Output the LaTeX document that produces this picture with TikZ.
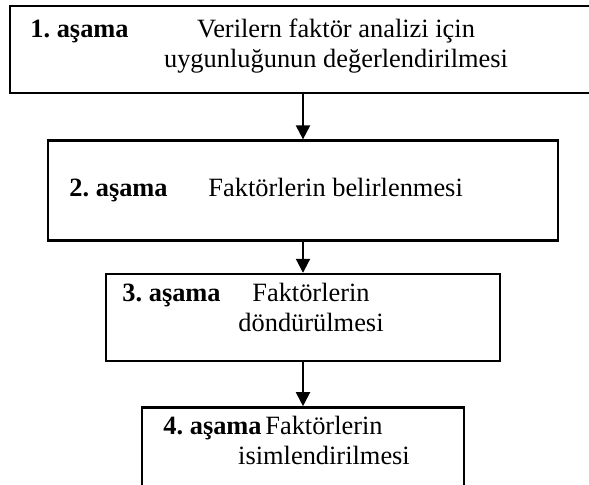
\documentclass[tikz,border=0pt]{standalone}
\usepackage{fontspec}
\setmainfont{Liberation Serif}
\usetikzlibrary{positioning, arrows.meta}
\frenchspacing

\begin{document}
\begin{tikzpicture}[
            x=0.5pt, y=-0.5pt,
            stage/.style={draw=black, line width=1.2pt, rectangle, inner sep=0pt},
            flow/.style={line width=1pt, -{Triangle[length=7pt, width=7pt]}},
            stagelabel/.style={font=\fontsize{13.2}{15}\selectfont\bfseries, anchor=base west, inner sep=0pt},
            stagetext/.style={font=\fontsize{13.2}{15}\selectfont, align=center, anchor=base, inner sep=0pt}
        ]
        \clip (0,0) rectangle (589,485);

        % Kutular
        \node[stage, minimum width=293pt, minimum height=43.5pt, anchor=north] (s1) at (303,5) {};
        \node[stage, minimum width=255pt, minimum height=50pt, below=22.5pt of s1] (s2) {};
        \node[stage, minimum width=197pt, minimum height=43.5pt, below=15.5pt of s2] (s3) {};
        \node[stage, minimum width=161pt, minimum height=45pt, below=22pt of s3] (s4) {};

        % Yazilar
        \node[stagelabel] (l1) at (30,37.5) {1. aşama};
        \node[stagetext] (t1) at (336,67.5) {Verilern faktör analizi için\\uygunluğunun değerlendirilmesi};
        \node[stagelabel] (l2) at (69,197) {2. aşama};
        \node[stagelabel] (t2) at (208,197) {\mdseries Faktörlerin belirlenmesi};
        \node[stagelabel] (l3) at (122,302) {3. aşama};
        \node[stagetext] (t3) at (311,332) {Faktörlerin\\döndürülmesi};
        \node[stagelabel] (l4) at (163,435) {4. aşama};
        \node[stagetext] (t4) at (324,465) {Faktörlerin\\isimlendirilmesi};

        % Oklar
        \draw[flow] (s1) -- (s2);
        \draw[flow] (s2) -- (s3);
        \draw[flow] (s3) -- (s4);

    \end{tikzpicture}
\end{document}
